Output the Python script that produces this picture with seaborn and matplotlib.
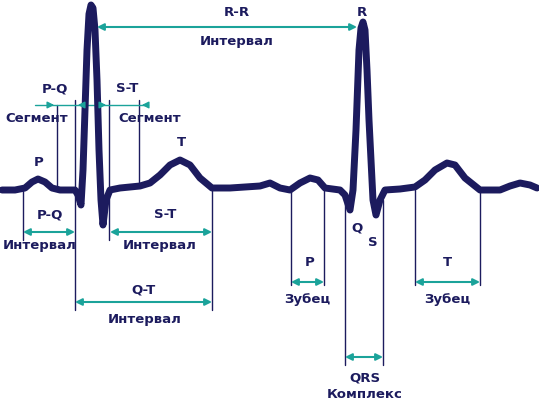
import matplotlib
matplotlib.use("Agg")
import matplotlib.pyplot as plt
import seaborn as sns
import pandas as pd

# ECG trace (pixel coords, y grows downward)
ecg_x = [2, 15, 25, 32, 38, 45, 52, 60, 75, 78, 81, 83, 85, 87, 89, 91, 93, 95, 97, 99, 101, 103,
         106, 110, 120, 140, 150, 160, 170, 180, 190, 200, 212, 230, 260, 270, 280, 290,
         300, 310, 318, 325, 340, 345, 350, 353, 356, 359, 361, 363, 365, 367, 369, 373, 376, 380,
         385, 400, 415, 425, 435, 447, 455, 465, 480, 500, 510, 520, 530, 537]
ecg_y = [190, 190, 188, 182, 179, 182, 188, 190, 190, 195, 205, 170, 110, 50, 14, 5, 8, 30, 80, 150, 200, 225,
         200, 190, 188, 186, 183, 175, 165, 160, 165, 178, 188, 188, 186, 183, 188, 190,
         183, 178, 180, 188, 190, 195, 210, 190, 130, 50, 28, 22, 30, 70, 120, 200, 215, 200,
         190, 189, 187, 180, 170, 163, 165, 178, 190, 190, 186, 183, 185, 188]

# thin marker lines: x, y top, y bottom
marks_x = [57, 75, 109, 139, 23, 212, 291, 324, 345, 383, 415, 480]
marks_top = [105, 100, 100, 100, 190, 190, 190, 190, 195, 200, 190, 190]
marks_bot = [190, 310, 240, 185, 240, 310, 285, 285, 365, 365, 285, 285]

# double arrows: x0, x1, y
arrow_x0 = [97, 23, 110, 75, 291, 415, 345]
arrow_x1 = [357, 75, 212, 212, 324, 480, 383]
arrow_y = [27, 232, 232, 302, 282, 282, 357]

labels = ["R-R", "Интервал", "R", "P-Q", "Сегмент", "S-T", "Сегмент", "P", "T",
          "P-Q", "Интервал", "S-T", "Интервал", "Q-T", "Интервал", "Q", "S",
          "P", "Зубец", "T", "Зубец", "QRS", "Комплекс"]
label_x = [237, 237, 362, 55, 37, 127, 150, 39, 181, 50, 40, 165, 160, 143, 145,
           357, 373, 310, 307, 447, 447, 365, 365]
label_y = [12, 41, 12, 89, 119, 89, 119, 162, 143, 215, 246, 215, 246, 290, 320,
           228, 243, 263, 299, 263, 299, 378, 394]

navy = "#1c1b5e"
teal = "#1ba39a"

sns.set_theme(style="white")
plt.rcParams["font.family"] = ["DejaVu Sans"]

fig, ax = plt.subplots(figsize=(5.39, 4.0), dpi=100)
fig.subplots_adjust(left=0, right=1, top=1, bottom=0)

for x, t, b in zip(marks_x, marks_top, marks_bot):
    ax.plot([x, x], [t, b], color=navy, lw=1)

# P-Q / S-T segment arrows (pointing inward from outside)
ax.plot([35, 148], [105, 105], color=teal, lw=1)
for xs, xe in [(45, 57), (87, 75), (97, 109), (150, 139)]:
    ax.annotate("", xy=(xe, 105), xytext=(xs, 105),
                arrowprops=dict(arrowstyle="-|>", color=teal, lw=1, mutation_scale=10))

for x0, x1, y in zip(arrow_x0, arrow_x1, arrow_y):
    ax.annotate("", xy=(x1, y), xytext=(x0, y),
                arrowprops=dict(arrowstyle="<|-|>", color=teal, lw=1.5,
                                mutation_scale=10, shrinkA=0, shrinkB=0))

df = pd.DataFrame({"x": ecg_x, "y": ecg_y})
sns.lineplot(data=df, x="x", y="y", sort=False, color=navy, lw=5, ax=ax,
             solid_capstyle="round", solid_joinstyle="round")

for s, x, y in zip(labels, label_x, label_y):
    ax.text(x, y, s, ha="center", va="center", color=navy, fontsize=9.5, fontweight="bold")

ax.set_xlim(0, 539)
ax.set_ylim(400, 0)
ax.axis("off")
fig.savefig("out.png", dpi=100, facecolor="white")
